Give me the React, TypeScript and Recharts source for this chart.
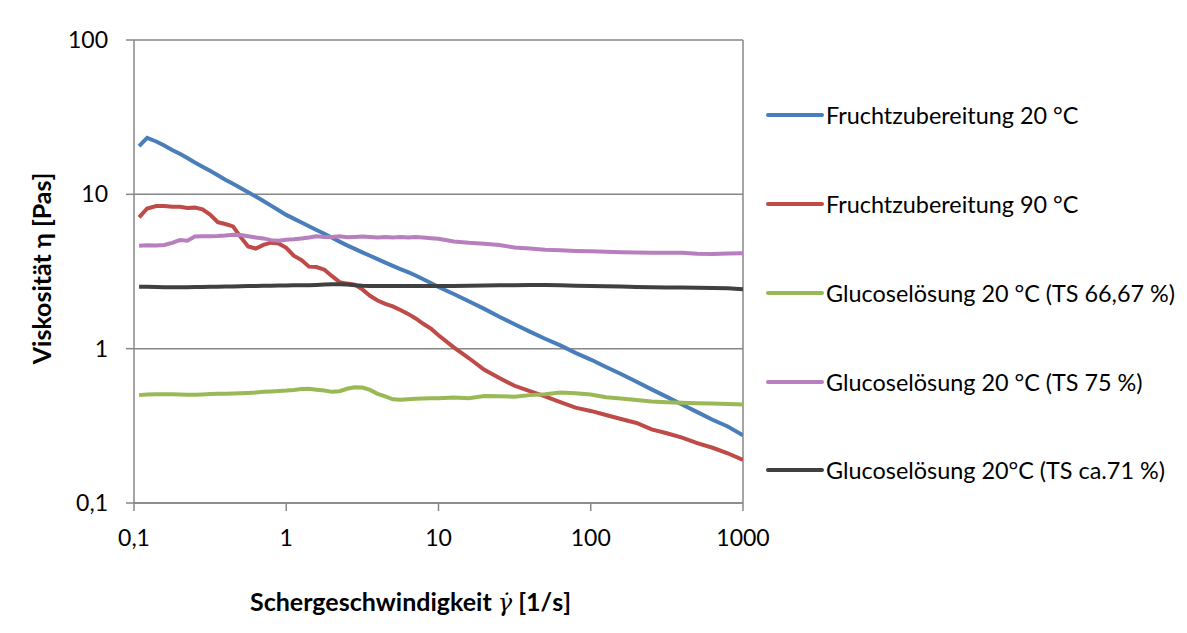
import { LineChart, Line, XAxis, YAxis, CartesianGrid, Legend, ReferenceLine } from 'recharts'

// shear rate [1/s]
const shearRate = [
  0.108, 0.122, 0.14, 0.158, 0.178, 0.2, 0.224, 0.251, 0.282, 0.316,
  0.355, 0.398, 0.447, 0.501, 0.562, 0.631, 0.708, 0.794, 0.891, 1,
  1.12, 1.26, 1.41, 1.58, 1.78, 2, 2.24, 2.51, 2.82, 3.16,
  3.55, 3.98, 4.47, 5.01, 5.62, 6.31, 7.08, 7.94, 8.91, 10,
  12.6, 15.8, 20, 25.1, 31.6, 39.8, 50.1, 63.1, 79.4, 100,
  126, 158, 200, 251, 316, 398, 501, 631, 794, 1000,
]

const frucht20 = [
  20.5, 23.2, 22.0, 20.7, 19.4, 18.3, 17.2, 16.1, 15.1, 14.2,
  13.3, 12.45, 11.7, 11.0, 10.3, 9.67, 9.05, 8.45, 7.89, 7.36,
  6.96, 6.57, 6.21, 5.87, 5.55, 5.23, 4.94, 4.67, 4.43, 4.21,
  4.0, 3.8, 3.61, 3.44, 3.28, 3.13, 2.98, 2.82, 2.66, 2.51,
  2.26, 2.03, 1.81, 1.61, 1.44, 1.29, 1.16, 1.05, 0.94, 0.85,
  0.76, 0.685, 0.61, 0.545, 0.487, 0.435, 0.388, 0.346, 0.313, 0.275,
]

const frucht90 = [
  7.1, 8.1, 8.4, 8.4, 8.3, 8.3, 8.15, 8.2, 8.0, 7.4,
  6.6, 6.42, 6.2, 5.3, 4.6, 4.45, 4.7, 4.86, 4.8, 4.5,
  4.0, 3.75, 3.4, 3.38, 3.25, 2.95, 2.7, 2.64, 2.6, 2.42,
  2.2, 2.05, 1.95, 1.88, 1.78, 1.68, 1.57, 1.45, 1.35, 1.22,
  1.02, 0.87, 0.73, 0.645, 0.575, 0.53, 0.49, 0.45, 0.415, 0.395,
  0.372, 0.35, 0.33, 0.3, 0.283, 0.265, 0.244, 0.228, 0.21, 0.19,
]

const gluc6667 = [
  0.5, 0.505, 0.507, 0.507, 0.507, 0.505, 0.503, 0.503, 0.505, 0.508,
  0.51, 0.51, 0.512, 0.515, 0.517, 0.52, 0.525, 0.528, 0.532, 0.535,
  0.54, 0.548, 0.55, 0.542, 0.535, 0.525, 0.53, 0.55, 0.562, 0.56,
  0.54, 0.51, 0.49, 0.47, 0.467, 0.47, 0.473, 0.475, 0.477, 0.478,
  0.482, 0.478, 0.493, 0.492, 0.488, 0.5, 0.507, 0.52, 0.515, 0.505,
  0.485, 0.475, 0.465, 0.455, 0.45, 0.447, 0.443, 0.441, 0.438, 0.435,
]

const gluc75 = [
  4.64, 4.68, 4.66, 4.7, 4.85, 5.05, 5.0, 5.33, 5.35, 5.36,
  5.38, 5.42, 5.48, 5.45, 5.35, 5.25, 5.18, 5.05, 5.0, 5.08,
  5.12, 5.18, 5.25, 5.35, 5.3, 5.3, 5.35, 5.28, 5.3, 5.33,
  5.3, 5.25, 5.3, 5.25, 5.3, 5.25, 5.3, 5.25, 5.2, 5.15,
  4.95, 4.85, 4.78, 4.7, 4.52, 4.45, 4.38, 4.35, 4.3, 4.27,
  4.25, 4.22, 4.2, 4.19, 4.18, 4.18, 4.12, 4.1, 4.13, 4.15,
]

const gluc71 = [
  2.52, 2.52, 2.51, 2.5, 2.5, 2.5, 2.5, 2.51, 2.51, 2.52,
  2.52, 2.53, 2.53, 2.54, 2.55, 2.55, 2.56, 2.56, 2.57, 2.57,
  2.58, 2.58, 2.58, 2.59, 2.6, 2.61, 2.61, 2.6, 2.58, 2.56,
  2.55, 2.55, 2.55, 2.55, 2.55, 2.55, 2.55, 2.55, 2.55, 2.55,
  2.55, 2.56, 2.57, 2.58, 2.58, 2.59, 2.59, 2.58, 2.56, 2.55,
  2.54, 2.53, 2.51, 2.5, 2.49, 2.49, 2.48, 2.47, 2.46, 2.43,
]

const xTicks = [0.1, 1, 10, 100, 1000]
const yTicks = [0.1, 1, 10, 100]

const series = [
  { key: 'frucht20', name: 'Fruchtzubereitung 20 °C', color: '#4A7EBB', values: frucht20 },
  { key: 'frucht90', name: 'Fruchtzubereitung 90 °C', color: '#BE4B48', values: frucht90 },
  { key: 'gluc6667', name: 'Glucoselösung 20 °C (TS 66,67 %)', color: '#98B954', values: gluc6667 },
  { key: 'gluc75', name: 'Glucoselösung 20 °C (TS 75 %)', color: '#B77FBD', values: gluc75 },
  { key: 'gluc71', name: 'Glucoselösung 20°C (TS ca.71 %)', color: '#404040', values: gluc71 },
]

const data = shearRate.map((x, i) => {
  const row: Record<string, number> = { x }
  series.forEach(s => { row[s.key] = s.values[i] })
  return row
})

const FONT = 'Lato, "Open Sans", sans-serif'
const GRAY = '#878787'

const fmt = (v: number) => String(v).replace('.', ',')

function LegendBox({ payload }: any) {
  return (
    <div style={{ fontFamily: FONT, fontSize: 23.4, color: '#000' }}>
      {(payload || []).map((p: any) => (
        <div key={p.value} style={{ display: 'flex', alignItems: 'center', height: 88.75 }}>
          <svg width={58} height={8}>
            <line x1={2} y1={4} x2={56} y2={4} stroke={p.color} strokeWidth={4} strokeLinecap="round" />
          </svg>
          <span style={{ marginLeft: 2, whiteSpace: 'nowrap' }}>{p.value}</span>
        </div>
      ))}
    </div>
  )
}

function YTitle({ viewBox }: any) {
  const cx = (viewBox?.x ?? 0) + 37
  const cy = (viewBox?.y ?? 0) + (viewBox?.height ?? 0) / 2 - 3
  return (
    <text x={cx} y={cy} transform={`rotate(-90, ${cx}, ${cy})`} textAnchor="middle" dominantBaseline="middle"
      fontFamily={FONT} fontWeight="bold" fontSize={25} fill="#000">
      Viskosität η [Pas]
    </text>
  )
}

function XTitle({ viewBox }: any) {
  const cx = (viewBox?.x ?? 0) + (viewBox?.width ?? 0) / 2 - 28
  const cy = (viewBox?.y ?? 0) + 108
  return (
    <text x={cx} y={cy} textAnchor="middle" fontFamily={FONT} fontWeight="bold" fontSize={25} fill="#000">
      <tspan>Schergeschwindigkeit </tspan>
      <tspan fontFamily='"DejaVu Serif", serif' fontStyle="italic" fontWeight="normal" fontSize={24}>γ̇</tspan>
      <tspan> [1/s]</tspan>
    </text>
  )
}

export default function App() {
  return (
    <div style={{ position: 'relative', width: 1170, height: 615 }}>
      <div style={{
        position: 'absolute', left: -1, top: -2, width: 1180, height: 627, boxSizing: 'border-box',
        borderTop: `1.5px solid ${GRAY}`, borderLeft: `1.5px solid ${GRAY}`,
      }} />
      <LineChart width={1170} height={615} data={data} margin={{ top: 32, right: 435, bottom: 20, left: 0 }}>
        <CartesianGrid vertical={false} stroke={GRAY} strokeWidth={1.5} />
        <ReferenceLine x={1000} stroke={GRAY} strokeWidth={1.5} />
        <XAxis
          dataKey="x"
          type="number"
          scale="log"
          domain={[0.1, 1000]}
          ticks={xTicks}
          allowDataOverflow
          height={100}
          tickFormatter={fmt}
          tick={{ fill: '#000', fontSize: 23, fontFamily: FONT }}
          tickSize={8}
          tickMargin={19}
          axisLine={{ stroke: GRAY, strokeWidth: 1.5 }}
          tickLine={{ stroke: GRAY, strokeWidth: 1.5 }}
          label={<XTitle />}
        />
        <YAxis
          type="number"
          scale="log"
          domain={[0.1, 100]}
          ticks={yTicks}
          allowDataOverflow
          width={126}
          tickFormatter={fmt}
          tick={{ fill: '#000', fontSize: 23, fontFamily: FONT }}
          tickSize={8}
          tickMargin={18}
          axisLine={{ stroke: GRAY, strokeWidth: 1.5 }}
          tickLine={{ stroke: GRAY, strokeWidth: 1.5 }}
          label={<YTitle />}
        />
        <Legend
          layout="vertical"
          align="center"
          verticalAlign="middle"
          content={<LegendBox />}
          wrapperStyle={{ left: 758, top: 63, width: 420 }}
        />
        {series.map(s => (
          <Line
            key={s.key}
            type="linear"
            dataKey={s.key}
            name={s.name}
            stroke={s.color}
            strokeWidth={4}
            dot={false}
            activeDot={false}
            isAnimationActive={false}
          />
        ))}
      </LineChart>
    </div>
  )
}
